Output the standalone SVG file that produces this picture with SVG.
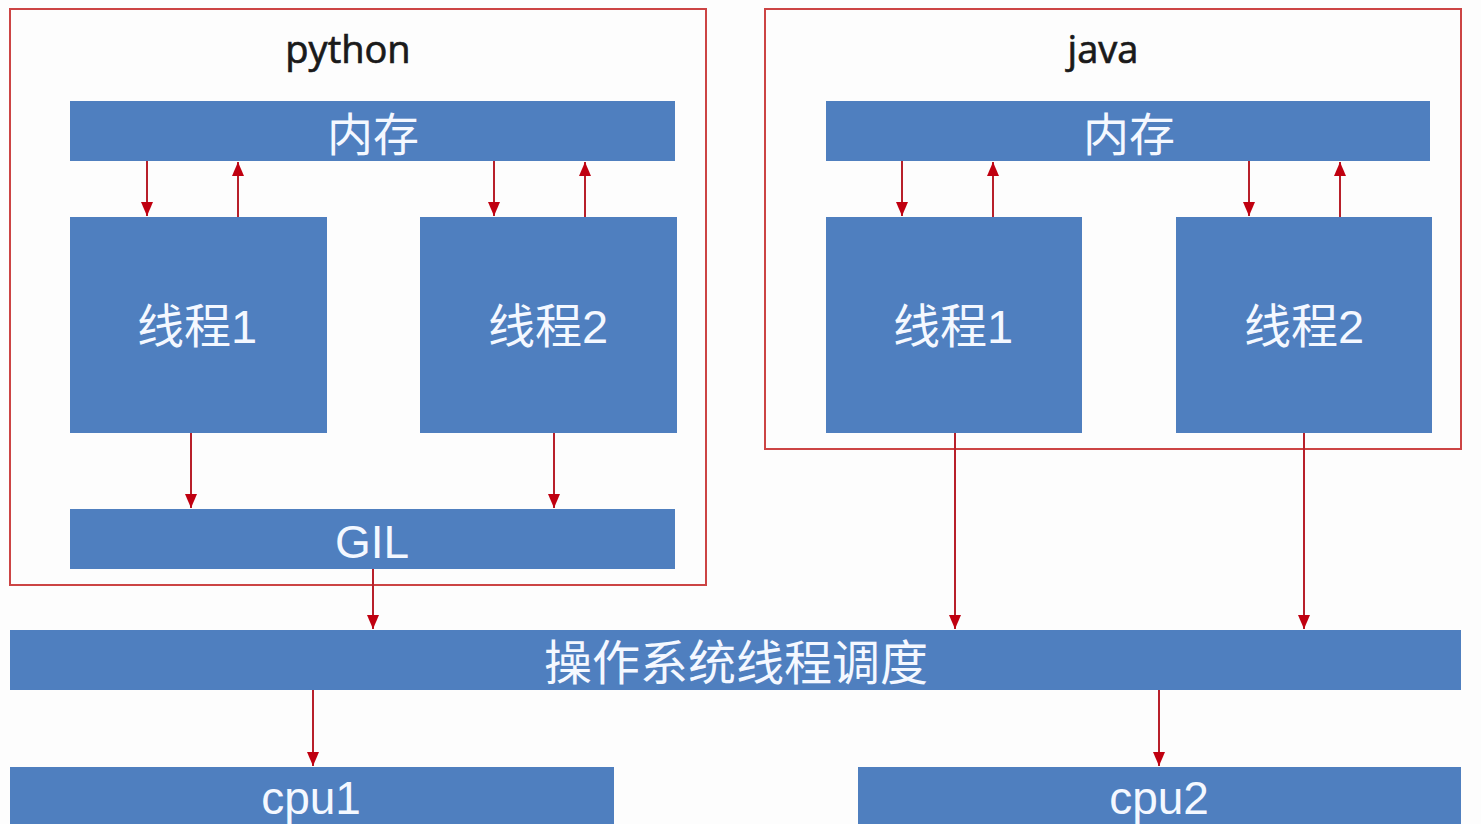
<svg xmlns="http://www.w3.org/2000/svg" width="1481" height="824" viewBox="0 0 1481 824">
<defs>
<style>
.frame{fill:none;stroke:#cc4444;stroke-width:2}
.box{fill:#4f7fbf}
.lbl{fill:#f4f8ff;font-family:"Liberation Sans","Noto Sans CJK SC",sans-serif;text-anchor:middle}
.title{fill:#1a1a1a;stroke:#1a1a1a;stroke-width:0.7;font-family:"Open Sans","Noto Sans",sans-serif;font-size:38px;font-weight:normal;text-anchor:middle}
.conn line{stroke:#b8202a;stroke-width:2;fill:none}
</style>
<marker id="ad" viewBox="0 0 14 12" refX="14" refY="6" markerWidth="14" markerHeight="12" markerUnits="userSpaceOnUse" orient="auto">
<path d="M0,0 L14,6 L0,12 Z" fill="#c00010"/>
</marker>
</defs>
<rect width="1481" height="824" fill="#fdfdfd"/>
<g id="python-frame">
<rect class="frame" x="10" y="9" width="696" height="576"/>
<text class="title" x="348" y="63">python</text>
</g>
<g id="java-frame">
<rect class="frame" x="765" y="9" width="696" height="440"/>
<text class="title" x="1103" y="63">java</text>
</g>
<g id="py-mem"><rect class="box" x="70" y="101" width="605" height="60"/><text class="lbl" x="373" y="151" font-size="46">内存</text></g>
<g id="py-t1"><rect class="box" x="70" y="217" width="257" height="216"/><text class="lbl" x="197" y="343" font-size="47">线程1</text></g>
<g id="py-t2"><rect class="box" x="420" y="217" width="257" height="216"/><text class="lbl" x="548" y="343" font-size="47">线程2</text></g>
<g id="py-gil"><rect class="box" x="70" y="509" width="605" height="60"/><text class="lbl" x="372" y="558" font-size="46">GIL</text></g>
<g id="java-mem"><rect class="box" x="826" y="101" width="604" height="60"/><text class="lbl" x="1129" y="151" font-size="46">内存</text></g>
<g id="java-t1"><rect class="box" x="826" y="217" width="256" height="216"/><text class="lbl" x="953" y="343" font-size="47">线程1</text></g>
<g id="java-t2"><rect class="box" x="1176" y="217" width="256" height="216"/><text class="lbl" x="1304" y="343" font-size="47">线程2</text></g>
<g id="os"><rect class="box" x="10" y="630" width="1451" height="60"/><text class="lbl" x="736" y="680" font-size="48">操作系统线程调度</text></g>
<g id="cpu1"><rect class="box" x="10" y="767" width="604" height="60"/><text class="lbl" x="311" y="814" font-size="46">cpu1</text></g>
<g id="cpu2"><rect class="box" x="858" y="767" width="603" height="60"/><text class="lbl" x="1159" y="814" font-size="46">cpu2</text></g>
<g class="conn" id="connectors">
<line x1="147" y1="161" x2="147" y2="216" marker-end="url(#ad)"/>
<line x1="238" y1="217" x2="238" y2="162" marker-end="url(#ad)"/>
<line x1="494" y1="161" x2="494" y2="216" marker-end="url(#ad)"/>
<line x1="585" y1="217" x2="585" y2="162" marker-end="url(#ad)"/>
<line x1="902" y1="161" x2="902" y2="216" marker-end="url(#ad)"/>
<line x1="993" y1="217" x2="993" y2="162" marker-end="url(#ad)"/>
<line x1="1249" y1="161" x2="1249" y2="216" marker-end="url(#ad)"/>
<line x1="1340" y1="217" x2="1340" y2="162" marker-end="url(#ad)"/>
<line x1="191" y1="433" x2="191" y2="508" marker-end="url(#ad)"/>
<line x1="554" y1="433" x2="554" y2="508" marker-end="url(#ad)"/>
<line x1="373" y1="569" x2="373" y2="629" marker-end="url(#ad)"/>
<line x1="955" y1="433" x2="955" y2="629" marker-end="url(#ad)"/>
<line x1="1304" y1="433" x2="1304" y2="629" marker-end="url(#ad)"/>
<line x1="313" y1="690" x2="313" y2="766" marker-end="url(#ad)"/>
<line x1="1159" y1="690" x2="1159" y2="766" marker-end="url(#ad)"/>
</g>
</svg>
